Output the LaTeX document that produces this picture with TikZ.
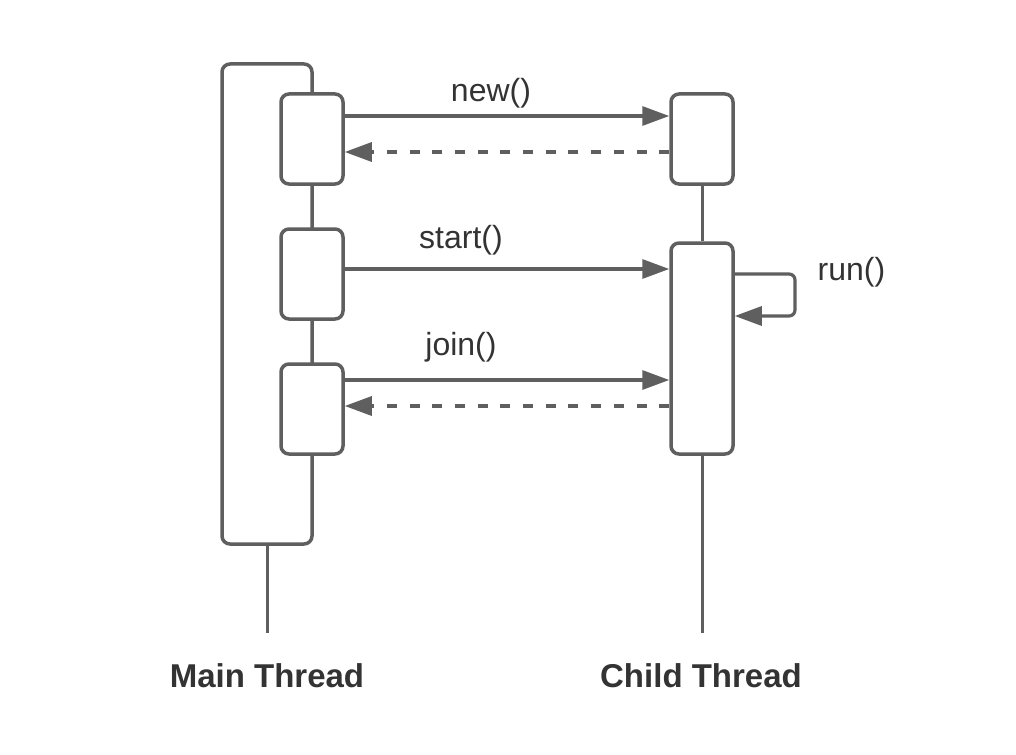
\documentclass[tikz,border=0pt]{standalone}
\usepackage{fontspec}
\setmainfont{Liberation Sans}
\usetikzlibrary{arrows.meta}
\definecolor{linec}{HTML}{5F5F5F}
\definecolor{textc}{HTML}{333333}
\begin{document}
\begin{tikzpicture}[x=1pt,y=-1pt,
  actbox/.style={draw=linec,line width=3.5pt,rounded corners=8pt,fill=white,rectangle,inner sep=0pt},
  lifeline/.style={draw=linec,line width=3pt},
  msg/.style={draw=linec,line width=3.2pt,-{Triangle[length=27pt,width=19pt]}},
  reply/.style={msg,dash pattern=on 10pt off 12.7pt},
  lbl/.style={text=textc,font=\fontsize{32}{38}\selectfont,anchor=base,inner sep=0pt},
  ttl/.style={text=textc,font=\fontsize{33}{40}\selectfont\bfseries,anchor=base,inner sep=0pt}]
\useasboundingbox[fill=white] (0,0) rectangle (1016,754);
% lifelines
\coordinate (mlb) at (267,633);
\coordinate (clb) at (702,633);
% main thread
\node[actbox,minimum width=90pt,minimum height=480pt] (mbig) at (267,304) {};
\draw[lifeline] (mbig.south) -- (mlb);
\node[actbox,minimum width=62pt,minimum height=90pt] (m1) at (312,139) {};
\node[actbox,minimum width=62pt,minimum height=90pt] (m2) at (312,274) {};
\node[actbox,minimum width=62pt,minimum height=90pt] (m3) at (312,409) {};
% child thread
\node[actbox,minimum width=62pt,minimum height=90pt] (c1) at (702,139) {};
\node[actbox,minimum width=62pt,minimum height=211pt] (c2) at (702,348.5) {};
\draw[lifeline] (c1.south) -- (c2.north);
\draw[lifeline] (c2.south) -- (clb);
% messages
\draw[msg] (m1.east |- 0,116) -- (c1.west |- 0,116);
\draw[reply] (c1.west |- 0,152) -- (m1.east |- 0,152);
\draw[msg] (m2.east |- 0,269) -- (c2.west |- 0,269);
\coordinate (r1) at (795,274);
\coordinate (r2) at (795,316);
\draw[msg,rounded corners=6pt] (c2.east |- 0,274) -- (r1) -- (r2) -- (c2.east |- 0,316);
\draw[msg] (m3.east |- 0,380) -- (c2.west |- 0,380);
\draw[reply] (c2.west |- 0,406) -- (m3.east |- 0,406);
% labels
\node[lbl] (lnew) at (491,102) {new()};
\node[lbl] (lstart) at (461,248) {start()};
\node[lbl] (ljoin) at (461,355) {join()};
\node[lbl] (lrun) at (851.5,280) {run()};
\node[ttl] (tmain) at (267,687) {Main Thread};
\node[ttl] (tchild) at (701,687) {Child Thread};
\end{tikzpicture}
\end{document}
